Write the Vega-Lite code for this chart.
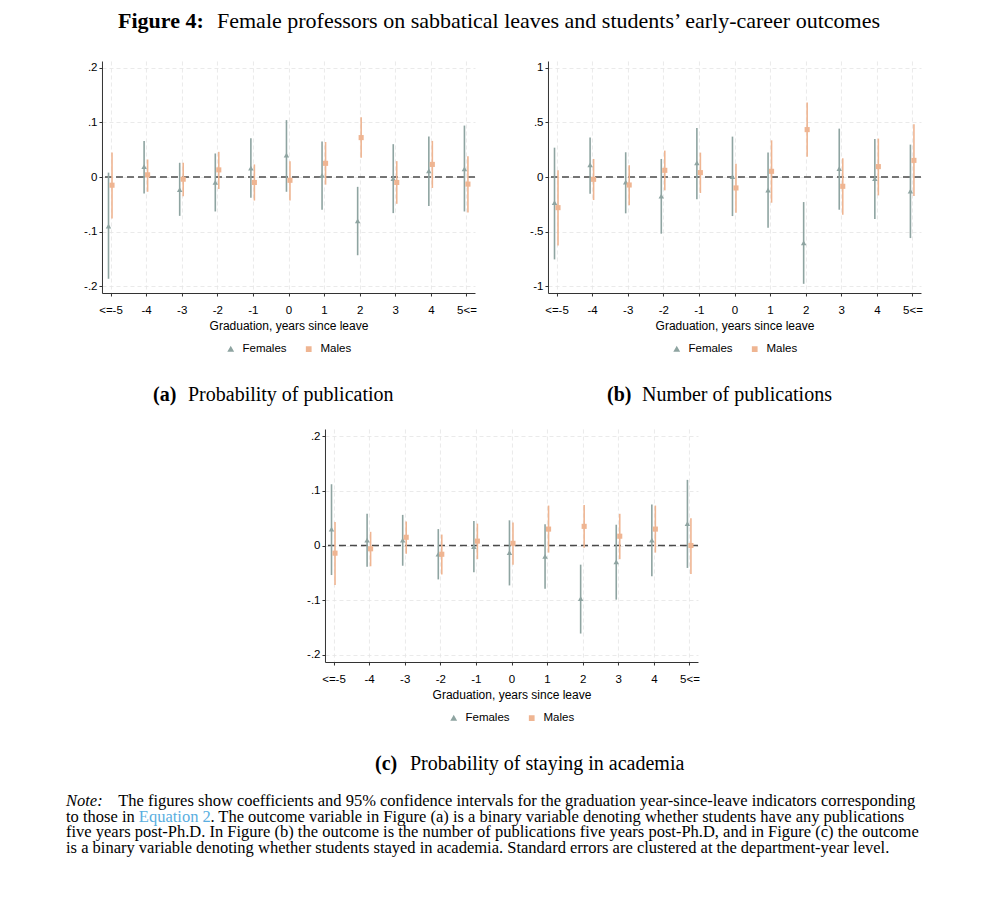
{
  "$schema": "https://vega.github.io/schema/vega-lite/v6.json",
  "background": "white",
  "padding": {"left": 66, "top": 10, "right": 5, "bottom": 5},
  "config": {
    "view": {"stroke": null},
    "font": "Liberation Sans",
    "axis": {
      "labelFont": "Liberation Sans", "labelFontSize": 11.5, "labelColor": "#000000",
      "titleFont": "Liberation Sans", "titleFontSize": 12, "titleFontWeight": "normal", "titleColor": "#000000",
      "domainColor": "#333333", "tickColor": "#333333", "tickSize": 3, "labelPadding": 2,
      "grid": true, "gridColor": "#e4e4e4", "gridDash": [4, 3], "gridWidth": 0.8
    },
    "legend": {
      "orient": "bottom", "direction": "horizontal", "title": null,
      "labelFont": "Liberation Sans", "labelFontSize": 11.5, "labelColor": "#000000",
      "symbolSize": 18, "labelOffset": 6, "columnPadding": 16, "offset": 11,
      "layout": {"anchor": "middle"}
    },
    "title": {"font": "Liberation Serif", "color": "#000000"}
  },
  "title": {
    "text": "Figure 4:",
    "subtitle": "\u200b\u2003\u2003\u2003\u2003\u2002Female professors on sabbatical leaves and students\u2019 early-career outcomes",
    "anchor": "start", "frame": "bounds", "dx": 52,
    "font": "Liberation Serif", "fontSize": 22, "fontWeight": "bold",
    "subtitleFont": "Liberation Serif", "subtitleFontSize": 22, "subtitleColor": "#000000",
    "subtitlePadding": -22, "offset": 28
  },
  "datasets": {
    "a": [
      {"t": "<=-5", "sex": "Females", "est": -0.09, "lo": -0.186, "hi": 0.008},
      {"t": "-4", "sex": "Females", "est": 0.019, "lo": -0.03, "hi": 0.066},
      {"t": "-3", "sex": "Females", "est": -0.023, "lo": -0.071, "hi": 0.026},
      {"t": "-2", "sex": "Females", "est": -0.01, "lo": -0.063, "hi": 0.043},
      {"t": "-1", "sex": "Females", "est": 0.016, "lo": -0.038, "hi": 0.071},
      {"t": "0", "sex": "Females", "est": 0.04, "lo": -0.027, "hi": 0.104},
      {"t": "1", "sex": "Females", "est": 0.003, "lo": -0.06, "hi": 0.065},
      {"t": "2", "sex": "Females", "est": -0.08, "lo": -0.143, "hi": -0.018},
      {"t": "3", "sex": "Females", "est": -0.003, "lo": -0.066, "hi": 0.06},
      {"t": "4", "sex": "Females", "est": 0.011, "lo": -0.053, "hi": 0.074},
      {"t": "5<=", "sex": "Females", "est": 0.015, "lo": -0.063, "hi": 0.094},
      {"t": "<=-5", "sex": "Males", "est": -0.015, "lo": -0.076, "hi": 0.045},
      {"t": "-4", "sex": "Males", "est": 0.004, "lo": -0.027, "hi": 0.032},
      {"t": "-3", "sex": "Males", "est": -0.004, "lo": -0.035, "hi": 0.026},
      {"t": "-2", "sex": "Males", "est": 0.013, "lo": -0.022, "hi": 0.046},
      {"t": "-1", "sex": "Males", "est": -0.01, "lo": -0.043, "hi": 0.023},
      {"t": "0", "sex": "Males", "est": -0.006, "lo": -0.043, "hi": 0.029},
      {"t": "1", "sex": "Males", "est": 0.025, "lo": -0.014, "hi": 0.064},
      {"t": "2", "sex": "Males", "est": 0.072, "lo": 0.035, "hi": 0.109},
      {"t": "3", "sex": "Males", "est": -0.01, "lo": -0.049, "hi": 0.029},
      {"t": "4", "sex": "Males", "est": 0.023, "lo": -0.02, "hi": 0.066},
      {"t": "5<=", "sex": "Males", "est": -0.013, "lo": -0.065, "hi": 0.038}
    ],
    "b": [
      {"t": "<=-5", "sex": "Females", "est": -0.235, "lo": -0.753, "hi": 0.268},
      {"t": "-4", "sex": "Females", "est": 0.11, "lo": -0.152, "hi": 0.36},
      {"t": "-3", "sex": "Females", "est": -0.046, "lo": -0.332, "hi": 0.226},
      {"t": "-2", "sex": "Females", "est": -0.174, "lo": -0.518, "hi": 0.165},
      {"t": "-1", "sex": "Females", "est": 0.128, "lo": -0.204, "hi": 0.448},
      {"t": "0", "sex": "Females", "est": 0.003, "lo": -0.357, "hi": 0.369},
      {"t": "1", "sex": "Females", "est": -0.119, "lo": -0.463, "hi": 0.223},
      {"t": "2", "sex": "Females", "est": -0.601, "lo": -0.976, "hi": -0.229},
      {"t": "3", "sex": "Females", "est": 0.076, "lo": -0.299, "hi": 0.442},
      {"t": "4", "sex": "Females", "est": -0.015, "lo": -0.384, "hi": 0.348},
      {"t": "5<=", "sex": "Females", "est": -0.128, "lo": -0.558, "hi": 0.296},
      {"t": "<=-5", "sex": "Males", "est": -0.28, "lo": -0.625, "hi": 0.061},
      {"t": "-4", "sex": "Males", "est": -0.021, "lo": -0.21, "hi": 0.165},
      {"t": "-3", "sex": "Males", "est": -0.073, "lo": -0.259, "hi": 0.107},
      {"t": "-2", "sex": "Males", "est": 0.061, "lo": -0.122, "hi": 0.241},
      {"t": "-1", "sex": "Males", "est": 0.04, "lo": -0.146, "hi": 0.223},
      {"t": "0", "sex": "Males", "est": -0.1, "lo": -0.326, "hi": 0.122},
      {"t": "1", "sex": "Males", "est": 0.052, "lo": -0.235, "hi": 0.335},
      {"t": "2", "sex": "Males", "est": 0.433, "lo": 0.186, "hi": 0.68},
      {"t": "3", "sex": "Males", "est": -0.085, "lo": -0.345, "hi": 0.171},
      {"t": "4", "sex": "Males", "est": 0.095, "lo": -0.168, "hi": 0.351},
      {"t": "5<=", "sex": "Males", "est": 0.152, "lo": -0.174, "hi": 0.482}
    ],
    "c": [
      {"t": "<=-5", "sex": "Females", "est": 0.03, "lo": -0.054, "hi": 0.112},
      {"t": "-4", "sex": "Females", "est": 0.01, "lo": -0.039, "hi": 0.058},
      {"t": "-3", "sex": "Females", "est": 0.01, "lo": -0.037, "hi": 0.056},
      {"t": "-2", "sex": "Females", "est": -0.016, "lo": -0.062, "hi": 0.03},
      {"t": "-1", "sex": "Females", "est": -0.002, "lo": -0.049, "hi": 0.045},
      {"t": "0", "sex": "Females", "est": -0.013, "lo": -0.073, "hi": 0.046},
      {"t": "1", "sex": "Females", "est": -0.02, "lo": -0.079, "hi": 0.039},
      {"t": "2", "sex": "Females", "est": -0.097, "lo": -0.161, "hi": -0.035},
      {"t": "3", "sex": "Females", "est": -0.03, "lo": -0.099, "hi": 0.038},
      {"t": "4", "sex": "Females", "est": 0.01, "lo": -0.056, "hi": 0.075},
      {"t": "5<=", "sex": "Females", "est": 0.04, "lo": -0.041, "hi": 0.12},
      {"t": "<=-5", "sex": "Males", "est": -0.014, "lo": -0.072, "hi": 0.043},
      {"t": "-4", "sex": "Males", "est": -0.006, "lo": -0.038, "hi": 0.025},
      {"t": "-3", "sex": "Males", "est": 0.015, "lo": -0.015, "hi": 0.044},
      {"t": "-2", "sex": "Males", "est": -0.016, "lo": -0.053, "hi": 0.02},
      {"t": "-1", "sex": "Males", "est": 0.008, "lo": -0.025, "hi": 0.04},
      {"t": "0", "sex": "Males", "est": 0.004, "lo": -0.035, "hi": 0.042},
      {"t": "1", "sex": "Males", "est": 0.03, "lo": -0.013, "hi": 0.073},
      {"t": "2", "sex": "Males", "est": 0.035, "lo": -0.004, "hi": 0.074},
      {"t": "3", "sex": "Males", "est": 0.017, "lo": -0.025, "hi": 0.058},
      {"t": "4", "sex": "Males", "est": 0.03, "lo": -0.013, "hi": 0.073},
      {"t": "5<=", "sex": "Males", "est": 0.0, "lo": -0.052, "hi": 0.05}
    ],
    "zero": [{"ref": 0}],
    "note": [
      {"line": 1, "part": "label", "text": "Note:"},
      {"line": 1, "part": "text", "text": "\u200b\u2003\u2003\u2003\u2006The figures show coefficients and 95% confidence intervals for the graduation year-since-leave indicators corresponding"},
      {"line": 2, "part": "text", "text": "to those in \u2003\u2003\u2003\u2003\u2004. The outcome variable in Figure (a) is a binary variable denoting whether students have any publications"},
      {"line": 2, "part": "link", "text": "\u200b\u2003\u2003\u2003\u2003\u2005\u2006Equation 2"},
      {"line": 3, "part": "text", "text": "five years post-Ph.D. In Figure (b) the outcome is the number of publications five years post-Ph.D, and in Figure (c) the outcome"},
      {"line": 4, "part": "text", "text": "is a binary variable denoting whether students stayed in academia. Standard errors are clustered at the department-year level."}
    ]
  },
  "resolve": {"scale": {"color": "independent", "shape": "independent"}, "legend": {"color": "independent", "shape": "independent"}},
  "center": true,
  "spacing": 19,
  "vconcat": [
    {
      "center": true,
      "spacing": 24,
      "resolve": {"scale": {"color": "independent", "shape": "independent"}, "legend": {"color": "independent", "shape": "independent"}},
      "vconcat": [
        {
          "hconcat": [
            {
              "width": 373, "height": 232,
              "title": {"text": "(a)", "subtitle": "\u200b\u2003\u2004\u2005\u2006Probability of publication", "orient": "bottom", "anchor": "start", "frame": "group", "dx": 51, "offset": 30, "font": "Liberation Serif", "fontSize": 20, "fontWeight": "bold", "subtitleFont": "Liberation Serif", "subtitleFontSize": 20, "subtitleColor": "#000000", "subtitlePadding": -20},
              "layer": [
                {"data": {"name": "zero"}, "mark": {"type": "rule", "color": "#4a4a4a", "strokeDash": [7, 4], "strokeWidth": 1.4}, "encoding": {"y": {"field": "ref", "type": "quantitative"}}},
                {"data": {"name": "a"}, "transform": [{"filter": "datum.sex == 'Females'"}], "mark": {"type": "rule", "strokeWidth": 1.6, "xOffset": -2},
                 "encoding": {
                   "x": {"field": "t", "type": "ordinal", "sort": ["<=-5", "-4", "-3", "-2", "-1", "0", "1", "2", "3", "4", "5<="], "scale": {"type": "point", "padding": 0.24}, "axis": {"title": "Graduation, years since leave", "labelAngle": 0, "labelPadding": 8, "titlePadding": 5}},
                   "y": {"field": "lo", "type": "quantitative", "scale": {"domain": [-0.212, 0.212], "nice": false, "zero": false}, "axis": {"title": null, "values": [-0.2, -0.1, 0, 0.1, 0.2], "labelExpr": "replace(toString(datum.value), '0.', '.')"}},
                   "y2": {"field": "hi"},
                   "color": {"field": "sex", "type": "nominal", "scale": {"domain": ["Females", "Males"], "range": ["#8ea4a1", "#efb592"]}}}},
                {"data": {"name": "a"}, "transform": [{"filter": "datum.sex == 'Males'"}], "mark": {"type": "rule", "strokeWidth": 1.6, "xOffset": 1.5},
                 "encoding": {"x": {"field": "t", "type": "ordinal", "sort": ["<=-5", "-4", "-3", "-2", "-1", "0", "1", "2", "3", "4", "5<="]}, "y": {"field": "lo", "type": "quantitative"}, "y2": {"field": "hi"}, "color": {"field": "sex", "type": "nominal"}}},
                {"data": {"name": "a"}, "transform": [{"filter": "datum.sex == 'Females'"}], "mark": {"type": "point", "filled": true, "opacity": 1, "size": 30, "xOffset": -2},
                 "encoding": {"x": {"field": "t", "type": "ordinal", "sort": ["<=-5", "-4", "-3", "-2", "-1", "0", "1", "2", "3", "4", "5<="]}, "y": {"field": "est", "type": "quantitative"}, "color": {"field": "sex", "type": "nominal"}, "shape": {"field": "sex", "type": "nominal", "scale": {"domain": ["Females", "Males"], "range": ["triangle-up", "square"]}}}},
                {"data": {"name": "a"}, "transform": [{"filter": "datum.sex == 'Males'"}], "mark": {"type": "point", "filled": true, "opacity": 1, "size": 26, "xOffset": 1.5},
                 "encoding": {"x": {"field": "t", "type": "ordinal", "sort": ["<=-5", "-4", "-3", "-2", "-1", "0", "1", "2", "3", "4", "5<="]}, "y": {"field": "est", "type": "quantitative"}, "color": {"field": "sex", "type": "nominal"}, "shape": {"field": "sex", "type": "nominal"}}}
              ]
            },
            {
              "width": 373, "height": 232,
              "title": {"text": "(b)", "subtitle": "\u200b\u2003\u2004\u2005\u2006Number of publications", "orient": "bottom", "anchor": "start", "frame": "group", "dx": 59, "offset": 30, "font": "Liberation Serif", "fontSize": 20, "fontWeight": "bold", "subtitleFont": "Liberation Serif", "subtitleFontSize": 20, "subtitleColor": "#000000", "subtitlePadding": -20},
              "layer": [
                {"data": {"name": "zero"}, "mark": {"type": "rule", "color": "#4a4a4a", "strokeDash": [7, 4], "strokeWidth": 1.4}, "encoding": {"y": {"field": "ref", "type": "quantitative"}}},
                {"data": {"name": "b"}, "transform": [{"filter": "datum.sex == 'Females'"}], "mark": {"type": "rule", "strokeWidth": 1.6, "xOffset": -2},
                 "encoding": {
                   "x": {"field": "t", "type": "ordinal", "sort": ["<=-5", "-4", "-3", "-2", "-1", "0", "1", "2", "3", "4", "5<="], "scale": {"type": "point", "padding": 0.24}, "axis": {"title": "Graduation, years since leave", "labelAngle": 0, "labelPadding": 8, "titlePadding": 5}},
                   "y": {"field": "lo", "type": "quantitative", "scale": {"domain": [-1.06, 1.06], "nice": false, "zero": false}, "axis": {"title": null, "values": [-1, -0.5, 0, 0.5, 1], "labelExpr": "replace(toString(datum.value), '0.', '.')"}},
                   "y2": {"field": "hi"},
                   "color": {"field": "sex", "type": "nominal", "scale": {"domain": ["Females", "Males"], "range": ["#8ea4a1", "#efb592"]}}}},
                {"data": {"name": "b"}, "transform": [{"filter": "datum.sex == 'Males'"}], "mark": {"type": "rule", "strokeWidth": 1.6, "xOffset": 1.5},
                 "encoding": {"x": {"field": "t", "type": "ordinal", "sort": ["<=-5", "-4", "-3", "-2", "-1", "0", "1", "2", "3", "4", "5<="]}, "y": {"field": "lo", "type": "quantitative"}, "y2": {"field": "hi"}, "color": {"field": "sex", "type": "nominal"}}},
                {"data": {"name": "b"}, "transform": [{"filter": "datum.sex == 'Females'"}], "mark": {"type": "point", "filled": true, "opacity": 1, "size": 30, "xOffset": -2},
                 "encoding": {"x": {"field": "t", "type": "ordinal", "sort": ["<=-5", "-4", "-3", "-2", "-1", "0", "1", "2", "3", "4", "5<="]}, "y": {"field": "est", "type": "quantitative"}, "color": {"field": "sex", "type": "nominal"}, "shape": {"field": "sex", "type": "nominal", "scale": {"domain": ["Females", "Males"], "range": ["triangle-up", "square"]}}}},
                {"data": {"name": "b"}, "transform": [{"filter": "datum.sex == 'Males'"}], "mark": {"type": "point", "filled": true, "opacity": 1, "size": 26, "xOffset": 1.5},
                 "encoding": {"x": {"field": "t", "type": "ordinal", "sort": ["<=-5", "-4", "-3", "-2", "-1", "0", "1", "2", "3", "4", "5<="]}, "y": {"field": "est", "type": "quantitative"}, "color": {"field": "sex", "type": "nominal"}, "shape": {"field": "sex", "type": "nominal"}}}
              ]
            }
          ],
          "spacing": 52,
          "resolve": {"scale": {"color": "independent", "shape": "independent"}, "legend": {"color": "independent", "shape": "independent"}}
        },
        {
          "width": 373, "height": 233,
          "title": {"text": "(c)", "subtitle": "\u200b\u2003\u2004\u2005\u2006Probability of staying in academia", "orient": "bottom", "anchor": "start", "frame": "group", "dx": 50, "offset": 30, "font": "Liberation Serif", "fontSize": 20, "fontWeight": "bold", "subtitleFont": "Liberation Serif", "subtitleFontSize": 20, "subtitleColor": "#000000", "subtitlePadding": -20},
          "layer": [
            {"data": {"name": "zero"}, "mark": {"type": "rule", "color": "#4a4a4a", "strokeDash": [7, 4], "strokeWidth": 1.4}, "encoding": {"y": {"field": "ref", "type": "quantitative"}}},
            {"data": {"name": "c"}, "transform": [{"filter": "datum.sex == 'Females'"}], "mark": {"type": "rule", "strokeWidth": 1.6, "xOffset": -2},
             "encoding": {
               "x": {"field": "t", "type": "ordinal", "sort": ["<=-5", "-4", "-3", "-2", "-1", "0", "1", "2", "3", "4", "5<="], "scale": {"type": "point", "padding": 0.24}, "axis": {"title": "Graduation, years since leave", "labelAngle": 0, "labelPadding": 8, "titlePadding": 5}},
               "y": {"field": "lo", "type": "quantitative", "scale": {"domain": [-0.213, 0.213], "nice": false, "zero": false}, "axis": {"title": null, "values": [-0.2, -0.1, 0, 0.1, 0.2], "labelExpr": "replace(toString(datum.value), '0.', '.')"}},
               "y2": {"field": "hi"},
               "color": {"field": "sex", "type": "nominal", "scale": {"domain": ["Females", "Males"], "range": ["#8ea4a1", "#efb592"]}}}},
            {"data": {"name": "c"}, "transform": [{"filter": "datum.sex == 'Males'"}], "mark": {"type": "rule", "strokeWidth": 1.6, "xOffset": 1.5},
             "encoding": {"x": {"field": "t", "type": "ordinal", "sort": ["<=-5", "-4", "-3", "-2", "-1", "0", "1", "2", "3", "4", "5<="]}, "y": {"field": "lo", "type": "quantitative"}, "y2": {"field": "hi"}, "color": {"field": "sex", "type": "nominal"}}},
            {"data": {"name": "c"}, "transform": [{"filter": "datum.sex == 'Females'"}], "mark": {"type": "point", "filled": true, "opacity": 1, "size": 30, "xOffset": -2},
             "encoding": {"x": {"field": "t", "type": "ordinal", "sort": ["<=-5", "-4", "-3", "-2", "-1", "0", "1", "2", "3", "4", "5<="]}, "y": {"field": "est", "type": "quantitative"}, "color": {"field": "sex", "type": "nominal"}, "shape": {"field": "sex", "type": "nominal", "scale": {"domain": ["Females", "Males"], "range": ["triangle-up", "square"]}}}},
            {"data": {"name": "c"}, "transform": [{"filter": "datum.sex == 'Males'"}], "mark": {"type": "point", "filled": true, "opacity": 1, "size": 26, "xOffset": 1.5},
             "encoding": {"x": {"field": "t", "type": "ordinal", "sort": ["<=-5", "-4", "-3", "-2", "-1", "0", "1", "2", "3", "4", "5<="]}, "y": {"field": "est", "type": "quantitative"}, "color": {"field": "sex", "type": "nominal"}, "shape": {"field": "sex", "type": "nominal"}}}
          ]
        }
      ]
    },
    {
      "width": 892, "height": 47,
      "data": {"name": "note"},
      "encoding": {
        "y": {"field": "line", "type": "ordinal", "axis": null, "scale": {"type": "point", "padding": 0}},
        "x": {"value": 0},
        "text": {"field": "text"}
      },
      "layer": [
        {"transform": [{"filter": "datum.part == 'label'"}], "mark": {"type": "text", "align": "left", "baseline": "middle", "font": "Liberation Serif", "fontSize": 16.5, "fontStyle": "italic", "color": "#000000"}},
        {"transform": [{"filter": "datum.part != 'label'"}], "mark": {"type": "text", "align": "left", "baseline": "middle", "font": "Liberation Serif", "fontSize": 16.5}, "encoding": {"color": {"field": "part", "type": "nominal", "scale": {"domain": ["text", "link"], "range": ["#000000", "#5aaee0"]}, "legend": null}}}
      ]
    }
  ]
}
